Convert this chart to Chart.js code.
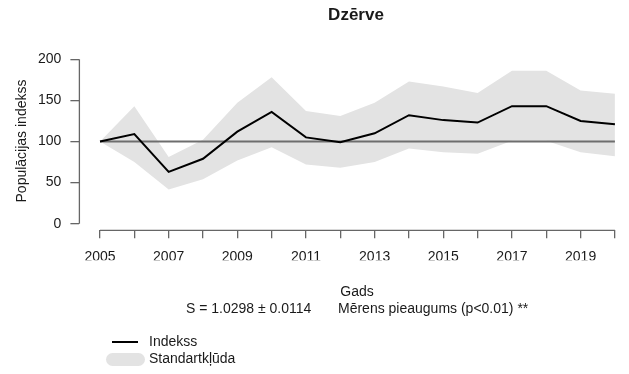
<!DOCTYPE html>
<html>
<head>
<meta charset="utf-8">
<script src="https://cdn.jsdelivr.net/npm/chart.js@4.4.1/dist/chart.umd.min.js"></script>
<style>
  html, body { margin: 0; padding: 0; background: #ffffff; }
  #wrap { width: 629px; height: 374px; }
</style>
</head>
<body>
<div id="wrap"><canvas id="c" width="629" height="374"></canvas></div>
<script>
// Dzērve population index, 2005 = 100
const years = [2005, 2006, 2007, 2008, 2009, 2010, 2011, 2012, 2013, 2014, 2015, 2016, 2017, 2018, 2019, 2020];
const indexValues = [100, 109, 63, 79, 112, 136, 105, 99, 110, 132, 126, 123, 143, 143, 125, 121];
const upperSE = [100, 143, 81, 102, 147, 178, 137, 131, 147, 173, 167, 159, 186, 186, 162, 158];
const lowerSE = [100, 75, 41.5, 54, 77, 93, 72, 68, 75, 91.5, 87, 85, 101, 101, 87, 82];
const yTicks = [0, 50, 100, 150, 200];
const baseline = 100;

const titleText = 'Dzērve';
const yTitle = 'Populācijas indekss';
const xTitle = 'Gads';
const slopeText = 'S = 1.0298 ± 0.0114';
const trendText = 'Mērens pieaugums (p<0.01) **';
const legendLine = 'Indekss';
const legendBand = 'Standartkļūda';

const FONT = '"Liberation Sans", Arial, sans-serif';
const TEXT = '#1a1a1a';
const AXIS = '#666666';
const BAND = '#e3e3e3';

const pts = arr => years.map((y, i) => ({ x: y, y: arr[i] }));

// axis lines span only the tick range, plus all annotation text and legend
const decor = {
  id: 'decor',
  afterDraw(chart) {
    const { ctx, chartArea, scales } = chart;
    const xs = scales.x, ys = scales.y;
    ctx.save();
    ctx.strokeStyle = AXIS;
    ctx.lineWidth = 1.3;
    ctx.beginPath();
    ctx.moveTo(chartArea.left, ys.getPixelForValue(yTicks[0]));
    ctx.lineTo(chartArea.left, ys.getPixelForValue(yTicks[yTicks.length - 1]));
    ctx.moveTo(xs.getPixelForValue(years[0]), chartArea.bottom);
    ctx.lineTo(xs.getPixelForValue(years[years.length - 1]), chartArea.bottom);
    ctx.stroke();

    ctx.fillStyle = TEXT;
    ctx.textBaseline = 'middle';
    ctx.textAlign = 'center';
    ctx.font = 'bold 17px ' + FONT;
    ctx.fillText(titleText, 356, 15);

    ctx.font = '14px ' + FONT;
    ctx.fillText(xTitle, 357, 292);

    ctx.save();
    ctx.translate(22, 141);
    ctx.rotate(-Math.PI / 2);
    ctx.fillText(yTitle, 0, 0);
    ctx.restore();

    ctx.textAlign = 'left';
    ctx.fillText(slopeText, 186, 309);
    ctx.fillText(trendText, 338, 309);

    // legend
    ctx.strokeStyle = '#000000';
    ctx.lineWidth = 2;
    ctx.beginPath();
    ctx.moveTo(112, 342);
    ctx.lineTo(138, 342);
    ctx.stroke();
    ctx.fillText(legendLine, 149, 342);

    ctx.fillStyle = BAND;
    ctx.beginPath();
    const bx = 106, by = 353, bw = 39, bh = 13, r = 6.5;
    ctx.moveTo(bx + r, by);
    ctx.lineTo(bx + bw - r, by);
    ctx.arc(bx + bw - r, by + r, r, -Math.PI / 2, Math.PI / 2);
    ctx.lineTo(bx + r, by + bh);
    ctx.arc(bx + r, by + r, r, Math.PI / 2, Math.PI * 1.5);
    ctx.closePath();
    ctx.fill();
    ctx.fillStyle = TEXT;
    ctx.fillText(legendBand, 149, 359.5);
    ctx.restore();
  }
};

new Chart(document.getElementById('c'), {
  type: 'line',
  data: {
    datasets: [
      { label: 'lower', data: pts(lowerSE), borderWidth: 0, borderColor: 'rgba(0,0,0,0)', pointRadius: 0, fill: false, order: 4 },
      { label: legendBand, data: pts(upperSE), borderWidth: 0, borderColor: 'rgba(0,0,0,0)', backgroundColor: BAND, pointRadius: 0, fill: { target: 0 }, order: 3 },
      { label: 'baseline', data: [{ x: years[0], y: baseline }, { x: years[years.length - 1], y: baseline }], borderColor: '#6e6e6e', borderWidth: 2, pointRadius: 0, fill: false, order: 2 },
      { label: legendLine, data: pts(indexValues), borderColor: '#000000', borderWidth: 2, pointRadius: 0, fill: false, tension: 0, order: 1 }
    ]
  },
  options: {
    responsive: false,
    animation: false,
    events: [],
    layout: { padding: { left: 0, right: 0, top: 52.7, bottom: 113.7 } },
    plugins: { legend: { display: false }, tooltip: { enabled: false }, title: { display: false } },
    scales: {
      x: {
        type: 'linear',
        min: 2004.4,
        max: 2020.41,
        afterFit(s) { s.height = 30; },
        afterBuildTicks(s) { s.ticks = years.map(v => ({ value: v })); },
        border: { display: false },
        grid: { drawOnChartArea: false, drawTicks: true, tickLength: 8, color: AXIS, lineWidth: 1.3 },
        ticks: {
          autoSkip: false, maxRotation: 0, padding: 10,
          color: TEXT, font: { family: FONT, size: 14 },
          callback: v => (v % 2 === 1 ? String(v) : '')
        }
      },
      y: {
        type: 'linear',
        min: -8,
        max: 208,
        afterFit(s) { s.width = 79.4; },
        afterBuildTicks(s) { s.ticks = yTicks.map(v => ({ value: v })); },
        border: { display: false },
        grid: { drawOnChartArea: false, drawTicks: true, tickLength: 9, color: AXIS, lineWidth: 1.3 },
        ticks: { padding: 9, color: TEXT, font: { family: FONT, size: 14 }, callback: v => String(v) }
      }
    }
  },
  plugins: [decor]
});
</script>
</body>
</html>
